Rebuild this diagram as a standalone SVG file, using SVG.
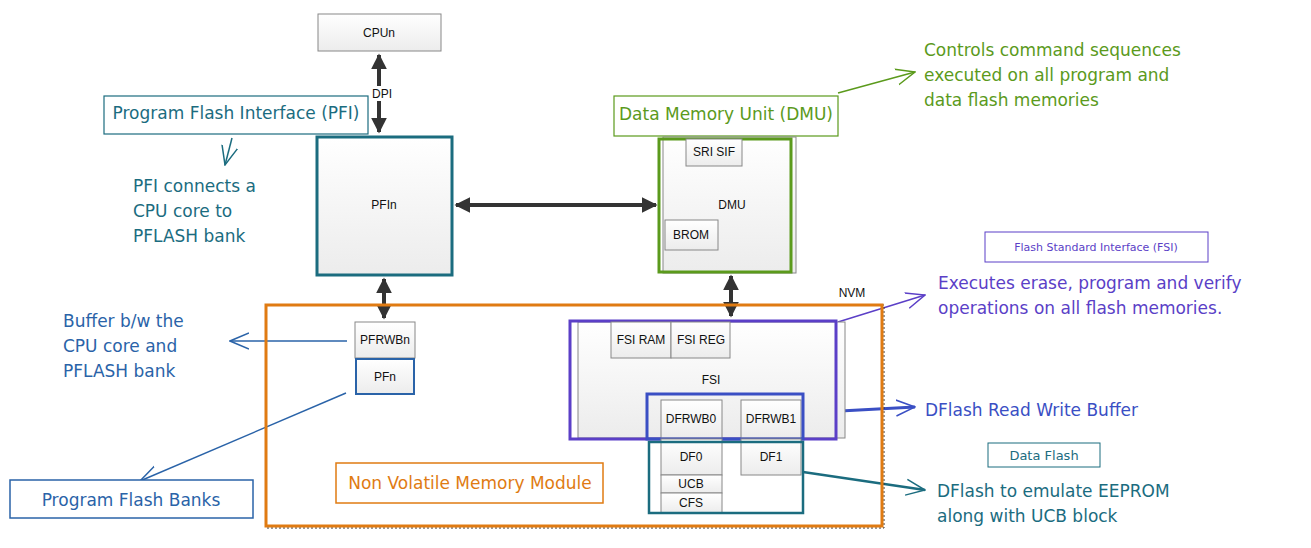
<svg xmlns="http://www.w3.org/2000/svg" width="1311" height="548" viewBox="0 0 1311 548">
<defs>
<linearGradient id="g" x1="0" y1="0" x2="0" y2="1"><stop offset="0" stop-color="#ffffff"/><stop offset="1" stop-color="#ececec"/></linearGradient>
<marker id="ah" viewBox="0 0 10 10" refX="9" refY="5" markerWidth="4" markerHeight="4" orient="auto-start-reverse"><path d="M0,0 L10,5 L0,10 z" fill="#333"/></marker>
<marker id="oa" viewBox="0 0 20 20" refX="19" refY="10" markerWidth="20" markerHeight="20" markerUnits="userSpaceOnUse" orient="auto"><path d="M0,2 L19,10 L0,18" fill="none" stroke="context-stroke" stroke-width="1.5"/></marker>
<style>
.b{fill:url(#g);stroke:#888;stroke-width:1}
.t{font-family:"Liberation Sans",Arial,sans-serif;font-size:12px;fill:#111;text-anchor:middle;dominant-baseline:central}
.h{font-family:"Comic Sans MS","DejaVu Sans",sans-serif;font-size:17px}
.c{stroke:#333;stroke-width:4;fill:none;marker-start:url(#ah);marker-end:url(#ah)}
</style>
</defs>
<g id="connectors">
<path class="c" d="M379,55 V132"/>
<path class="c" d="M456,205 H656"/>
<path class="c" d="M384,279 V318"/>
<path class="c" d="M731,276 V316"/>
<path d="M232,138 L225,165" stroke="#1b6c7f" stroke-width="1.5" fill="none" marker-end="url(#oa)"/>
<path d="M838,93 L915,72" stroke="#5b9a1c" stroke-width="1.5" fill="none" marker-end="url(#oa)"/>
<path d="M838,322 L925,295" stroke="#5b3fc7" stroke-width="1.5" fill="none" marker-end="url(#oa)"/>
<path d="M803,413 L915,407" stroke="#3a4fc4" stroke-width="3" fill="none" marker-end="url(#oa)"/>
<path d="M803,472 L925,490" stroke="#1b6c7f" stroke-width="2.5" fill="none" marker-end="url(#oa)"/>
<path d="M347,341 L230,341" stroke="#2a63a8" stroke-width="1.5" fill="none" marker-end="url(#oa)"/>
<path d="M346,393 L140,481" stroke="#2a63a8" stroke-width="1.5" fill="none" marker-end="url(#oa)"/>
</g>
<g id="cpu"><rect class="b" x="318" y="14" width="123" height="37"/><text class="t" x="379" y="33">CPUn</text></g>
<rect x="372" y="86" width="18" height="15" fill="#fff"/>
<text class="t" x="382" y="94" font-size="11">DPI</text>
<g id="pfi-label"><rect x="104" y="96" width="264" height="38" fill="#fff" stroke="#1b6c7f" stroke-width="1.2"/><text class="h" x="236" y="119" text-anchor="middle" font-size="13" fill="#1b6c7f">Program Flash Interface (PFI)</text></g>
<g id="pfi-note" class="h" fill="#1b6c7f"><text x="133" y="192">PFI connects a</text><text x="133" y="217">CPU core to</text><text x="133" y="242">PFLASH bank</text></g>
<g id="pfin"><rect class="b" x="317" y="137" width="135" height="138" style="stroke:#1b6c7f;stroke-width:3"/><text class="t" x="384" y="205">PFIn</text></g>
<g id="dmu-label"><rect x="614" y="96" width="224" height="40" fill="#fff" stroke="#5b9a1c" stroke-width="1.2"/><text class="h" x="726" y="120" text-anchor="middle" font-size="15" fill="#5b9a1c">Data Memory Unit (DMU)</text></g>
<g id="dmu-note" class="h" fill="#5b9a1c"><text x="924" y="56">Controls command sequences</text><text x="924" y="81">executed on all program and</text><text x="924" y="106">data flash memories</text></g>
<g id="dmu"><rect class="b" x="663" y="137" width="133" height="136"/><rect x="659" y="139" width="132" height="133" fill="none" stroke="#5b9a1c" stroke-width="3"/><text class="t" x="732" y="205">DMU</text>
<rect class="b" x="686" y="139" width="56" height="27"/><text class="t" x="714" y="152">SRI SIF</text>
<rect class="b" x="665" y="220" width="53" height="30"/><text class="t" x="691" y="235">BROM</text></g>
<g id="nvm"><rect x="266" y="305" width="618" height="223" fill="none" stroke="#333" stroke-dasharray="2,2"/><rect x="266" y="305" width="616" height="221" fill="none" stroke="#e07b12" stroke-width="3"/><text class="t" x="852" y="293">NVM</text></g>
<g id="nvm-label"><rect x="336" y="463" width="267" height="40" fill="#fff" stroke="#e07b12" stroke-width="1.5"/><text class="h" x="470" y="489" text-anchor="middle" font-size="16" fill="#e07b12">Non Volatile Memory Module</text></g>
<g id="pfrwbn"><rect class="b" x="355" y="322" width="60" height="36"/><text class="t" x="385" y="340" font-size="11">PFRWBn</text></g>
<g id="pfn"><rect class="b" x="356" y="359" width="58" height="35" style="stroke:#2a63a8;stroke-width:2"/><text class="t" x="385" y="377" font-size="11">PFn</text></g>
<g id="buf-note" class="h" fill="#2a63a8"><text x="63" y="327">Buffer b/w the</text><text x="63" y="352">CPU core and</text><text x="63" y="377">PFLASH bank</text></g>
<g id="pfb"><rect x="10" y="480" width="243" height="38" fill="#fff" stroke="#2a63a8" stroke-width="1.5"/><text class="h" x="131" y="506" text-anchor="middle" font-size="19" fill="#2a63a8">Program Flash Banks</text></g>
<g id="fsi"><rect class="b" x="578" y="322" width="267" height="116"/><rect x="570" y="321" width="266" height="118" fill="none" stroke="#5b3fc7" stroke-width="3"/><text class="t" x="711" y="380">FSI</text>
<rect class="b" x="611" y="322" width="60" height="36"/><text class="t" x="641" y="340">FSI RAM</text>
<rect class="b" x="671" y="322" width="59" height="36"/><text class="t" x="701" y="340">FSI REG</text></g>
<g id="dfrwb"><rect class="b" x="661" y="400" width="61" height="38"/><text class="t" x="691" y="419">DFRWB0</text>
<rect class="b" x="741" y="400" width="60" height="38"/><text class="t" x="771" y="419">DFRWB1</text>
<rect x="647" y="394" width="156" height="45" fill="none" stroke="#3a4fc4" stroke-width="3"/></g>
<g id="df"><rect class="b" x="661" y="439" width="61" height="36"/><text class="t" x="691" y="457">DF0</text>
<rect class="b" x="661" y="475" width="61" height="18"/><text class="t" x="691" y="484">UCB</text>
<rect class="b" x="661" y="493" width="61" height="20"/><text class="t" x="691" y="503">CFS</text>
<rect class="b" x="741" y="439" width="60" height="36"/><text class="t" x="771" y="457">DF1</text>
<rect x="649" y="442" width="154" height="71" fill="none" stroke="#1b6c7f" stroke-width="2.5"/></g>
<g id="fsi-label"><rect x="985" y="232" width="223" height="30" fill="#fff" stroke="#5b3fc7" stroke-width="1"/><text class="h" x="1096" y="251" text-anchor="middle" style="font-size:11px" fill="#5b3fc7">Flash Standard Interface (FSI)</text></g>
<g id="fsi-note" class="h" fill="#5b3fc7"><text x="938" y="289">Executes erase, program and verify</text><text x="938" y="314">operations on all flash memories.</text></g>
<text class="h" x="925" y="416" fill="#3a4fc4">DFlash Read Write Buffer</text>
<g id="df-label"><rect x="988" y="443" width="112" height="24" fill="#fff" stroke="#1b6c7f" stroke-width="1"/><text class="h" x="1044" y="460" text-anchor="middle" style="font-size:13px" fill="#1b6c7f">Data Flash</text></g>
<g id="df-note" class="h" fill="#1b6c7f"><text x="937" y="497">DFlash to emulate EEPROM</text><text x="937" y="522">along with UCB block</text></g>
</svg>
